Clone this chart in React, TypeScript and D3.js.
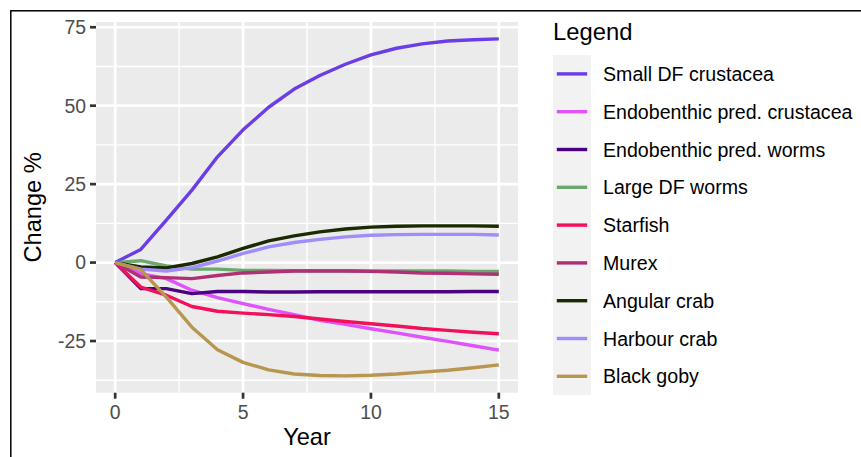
import React from "react";
import * as d3 from "d3";

const years = [0, 1, 2, 3, 4, 5, 6, 7, 8, 9, 10, 11, 12, 13, 14, 15];

const seriesNames = [
  "Small DF crustacea",
  "Endobenthic pred. crustacea",
  "Endobenthic pred. worms",
  "Large DF worms",
  "Starfish",
  "Murex",
  "Angular crab",
  "Harbour crab",
  "Black goby",
];

const seriesColors = [
  "#6a3de6",
  "#e052fb",
  "#4a0380",
  "#6aa86e",
  "#f3105b",
  "#b03075",
  "#1b2a00",
  "#a08cfc",
  "#b8964f",
];

const smallDFCrustacea = [0, 4.2, 13.5, 23.1, 33.7, 42.3, 49.5, 55.3, 59.6, 63.2, 66.2, 68.3, 69.7, 70.6, 71.0, 71.3];
const endoPredCrustacea = [0, -3.5, -5.1, -8.8, -11.2, -13.1, -14.9, -16.6, -18.4, -19.7, -21.1, -22.4, -23.8, -25.1, -26.5, -27.9];
const endoPredWorms = [0, -8.3, -8.3, -9.9, -9.2, -9.2, -9.4, -9.4, -9.3, -9.3, -9.3, -9.3, -9.3, -9.3, -9.2, -9.2];
const largeDFWorms = [0, 0.6, -1.1, -2.1, -2.1, -2.5, -2.5, -2.6, -2.6, -2.6, -2.7, -2.7, -2.7, -2.7, -2.8, -2.8];
const starfish = [0, -7.8, -10.4, -14.0, -15.5, -16.1, -16.6, -17.2, -18.0, -18.8, -19.5, -20.2, -21.0, -21.6, -22.2, -22.7];
const murex = [0, -4.6, -4.8, -5.1, -4.1, -3.3, -3.0, -2.7, -2.7, -2.7, -2.8, -3.0, -3.3, -3.4, -3.6, -3.7];
const angularCrab = [0, -1.4, -1.7, -0.3, 1.8, 4.5, 6.9, 8.5, 9.8, 10.7, 11.3, 11.6, 11.7, 11.7, 11.7, 11.6];
const harbourCrab = [0, -2.1, -2.7, -1.6, 0.5, 2.9, 5.0, 6.4, 7.4, 8.2, 8.7, 8.9, 9.0, 9.0, 9.0, 8.8];
const blackGoby = [0, -2.2, -11.0, -20.6, -27.8, -31.8, -34.2, -35.5, -36.0, -36.1, -35.9, -35.5, -34.9, -34.3, -33.5, -32.6];

const seriesValues = [
  smallDFCrustacea,
  endoPredCrustacea,
  endoPredWorms,
  largeDFWorms,
  starfish,
  murex,
  angularCrab,
  harbourCrab,
  blackGoby,
];

const xTicks = [0, 5, 10, 15];
const xMinor = [2.5, 7.5, 12.5];
const yTicks = [-25, 0, 25, 50, 75];
const yMinor = [-37.5, -12.5, 12.5, 37.5, 62.5];

const FONT = "'Liberation Sans', Arial, Helvetica, sans-serif";

export default function App() {
  const W = 861;
  const H = 457;
  const panel = { left: 96, top: 22, right: 518, bottom: 392.7 };

  const allVals = seriesValues.flat();
  const yMin = d3.min(allVals) as number;
  const yMax = d3.max(allVals) as number;
  const yPad = (yMax - yMin) * 0.05;
  const x = d3.scaleLinear().domain([-0.75, 15.75]).range([panel.left, panel.right]);
  const y = d3.scaleLinear().domain([yMin - yPad, yMax + yPad]).range([panel.bottom, panel.top]);

  const line = d3
    .line<number>()
    .x((_, i) => x(years[i]))
    .y((d) => y(d));

  const legendX = 553;
  const legendTop = 55;
  const keyH = 37.8;

  return (
    <svg width={W} height={H} style={{ position: "absolute", left: 0, top: 0 }}>
      <rect x={0} y={0} width={W} height={H} fill="#ffffff" />
      <rect x={10.8} y={10.8} width={W + 20} height={H + 20} fill="none" stroke="#000" strokeWidth={1.5} />
      <rect
        x={panel.left}
        y={panel.top}
        width={panel.right - panel.left}
        height={panel.bottom - panel.top}
        fill="#ebebeb"
      />
      {xMinor.map((t) => (
        <line key={"xm" + t} x1={x(t)} x2={x(t)} y1={panel.top} y2={panel.bottom} stroke="#fff" strokeWidth={1.35} />
      ))}
      {yMinor.map((t) => (
        <line key={"ym" + t} y1={y(t)} y2={y(t)} x1={panel.left} x2={panel.right} stroke="#fff" strokeWidth={1.35} />
      ))}
      {xTicks.map((t) => (
        <line key={"xM" + t} x1={x(t)} x2={x(t)} y1={panel.top} y2={panel.bottom} stroke="#fff" strokeWidth={2.7} />
      ))}
      {yTicks.map((t) => (
        <line key={"yM" + t} y1={y(t)} y2={y(t)} x1={panel.left} x2={panel.right} stroke="#fff" strokeWidth={2.7} />
      ))}
      {seriesValues.map((vals, i) => (
        <path
          key={seriesNames[i]}
          d={line(vals) || ""}
          fill="none"
          stroke={seriesColors[i]}
          strokeWidth={3.4}
          strokeLinejoin="round"
          strokeLinecap="butt"
        />
      ))}
      {xTicks.map((t) => (
        <g key={"xt" + t}>
          <line x1={x(t)} x2={x(t)} y1={panel.bottom} y2={panel.bottom + 6} stroke="#333" strokeWidth={2.7} />
          <text x={x(t)} y={418.5} textAnchor="middle" fontFamily={FONT} fontSize={19.4} fill="#4d4d4d">
            {t}
          </text>
        </g>
      ))}
      {yTicks.map((t) => (
        <g key={"yt" + t}>
          <line x1={panel.left - 6} x2={panel.left} y1={y(t)} y2={y(t)} stroke="#333" strokeWidth={2.7} />
          <text x={86} y={y(t) + 6.9} textAnchor="end" fontFamily={FONT} fontSize={19.4} fill="#4d4d4d">
            {t}
          </text>
        </g>
      ))}
      <text x={(panel.left + panel.right) / 2} y={445} textAnchor="middle" fontFamily={FONT} fontSize={23.6} fill="#000">
        Year
      </text>
      <text
        transform={`translate(41,${(panel.top + panel.bottom) / 2}) rotate(-90)`}
        textAnchor="middle"
        fontFamily={FONT}
        fontSize={23.6}
        fill="#000"
      >
        Change %
      </text>
      <text x={legendX} y={40} fontFamily={FONT} fontSize={23.8} fill="#000">
        Legend
      </text>
      <rect x={legendX} y={legendTop} width={38} height={keyH * seriesNames.length} fill="#f2f2f2" />
      {seriesNames.map((name, i) => {
        const cy = legendTop + keyH * i + keyH / 2;
        return (
          <g key={"lg" + name}>
            <line x1={legendX + 3.8} x2={legendX + 34.2} y1={cy} y2={cy} stroke={seriesColors[i]} strokeWidth={3.4} />
            <text x={603} y={cy + 7} fontFamily={FONT} fontSize={19.6} fill="#000">
              {name}
            </text>
          </g>
        );
      })}
    </svg>
  );
}
